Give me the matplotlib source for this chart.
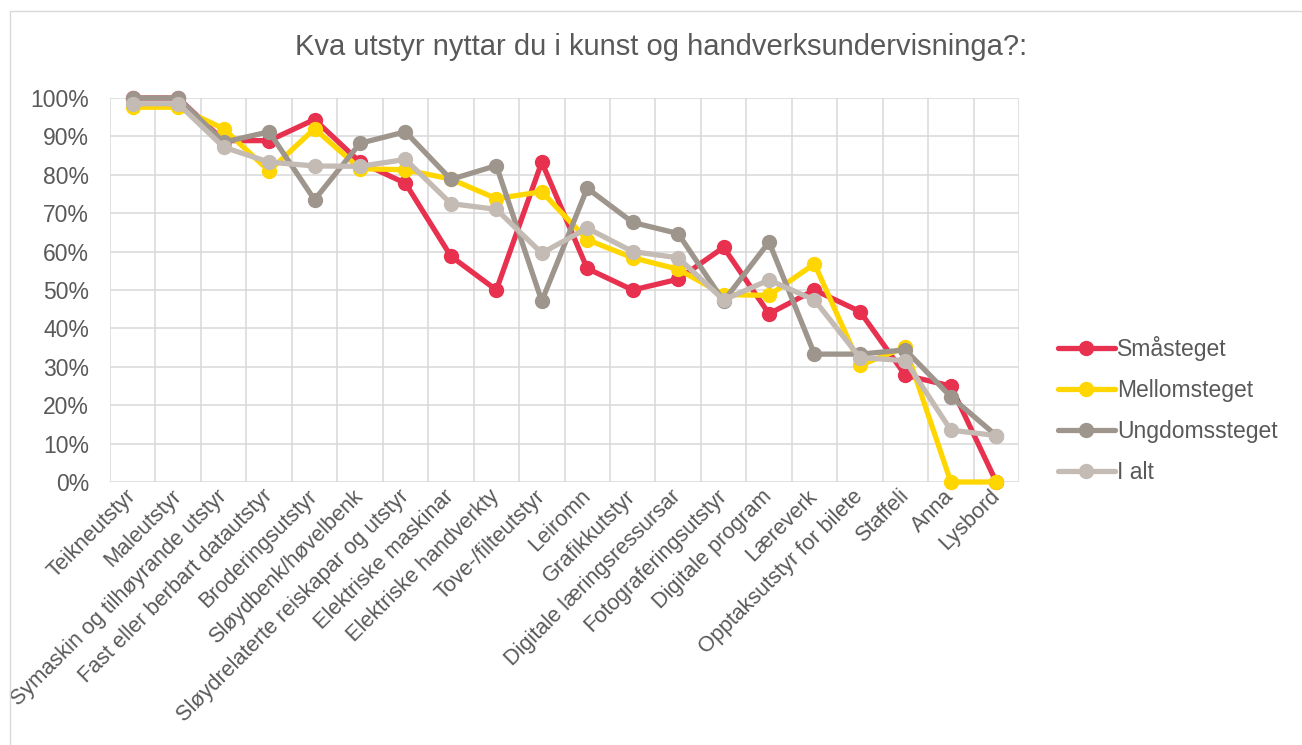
import matplotlib
matplotlib.use("Agg")
import matplotlib.pyplot as plt
import matplotlib.patches as mpatches
import numpy as np

plt.rcParams['font.family'] = ['Liberation Sans', 'DejaVu Sans']

categories = ["Teikneutstyr", "Maleutstyr", "Symaskin og tilhøyrande utstyr",
              "Fast eller berbart datautstyr", "Broderingsutstyr", "Sløydbenk/høvelbenk",
              "Sløydrelaterte reiskapar og utstyr", "Elektriske maskinar",
              "Elektriske handverkty", "Tove-/filteutstyr", "Leiromn", "Grafikkutstyr",
              "Digitale læringsressursar", "Fotograferingsutstyr", "Digitale program",
              "Læreverk", "Opptaksutstyr for bilete", "Staffeli", "Anna", "Lysbord"]

smasteget = [100, 100, 88.9, 88.9, 94.4, 83.3, 77.8, 58.8, 50.0, 83.3,
             55.6, 50.0, 52.8, 61.1, 43.8, 50.0, 44.4, 27.8, 25.0, 0.0]
mellomsteget = [97.6, 97.6, 92.0, 81.0, 92.0, 81.6, 81.3, 78.9, 73.8, 75.6,
                63.1, 58.4, 55.4, 48.8, 48.6, 56.8, 30.4, 35.1, 0.0, 0.0]
ungdomssteget = [100, 100, 88.5, 91.2, 73.5, 88.2, 91.2, 78.8, 82.4, 47.1,
                 76.5, 67.6, 64.7, 47.1, 62.5, 33.3, 33.3, 34.4, 22.2, 12.1]
i_alt = [98.5, 98.5, 87.2, 83.3, 82.3, 82.2, 84.0, 72.5, 71.0, 59.6,
         66.1, 60.0, 58.4, 47.4, 52.6, 47.4, 32.4, 31.6, 13.5, 12.1]

series_names = ["Småsteget", "Mellomsteget", "Ungdomssteget", "I alt"]
series_values = [smasteget, mellomsteget, ungdomssteget, i_alt]
colors = ["#E8304F", "#FFD600", "#9E958C", "#C4BBB4"]

W, H = 1302, 745
fig = plt.figure(figsize=(W / 100, H / 100), dpi=100)
fig.patch.set_facecolor("white")

# outer border
fig.patches.append(mpatches.Rectangle((10 / W, -0.1), 2.0, 1 - 11 / H + 0.1,
                                      transform=fig.transFigure, fill=False,
                                      edgecolor="#D9D9D9", linewidth=1.0))

ax = fig.add_axes([110 / W, 1 - 482 / H, (1019 - 110) / W, (482 - 98) / H])
x = np.arange(len(categories))
for name, vals, c in zip(series_names, series_values, colors):
    ax.plot(x, np.array(vals) / 100.0, color=c, linewidth=3.8, marker="o",
            markersize=10, label=name, clip_on=False, solid_capstyle="round")

ax.set_xlim(-0.5, len(categories) - 0.5)
ax.set_ylim(0, 1.0)
ax.set_yticks(np.arange(0, 1.01, 0.1))
ax.set_yticklabels([f"{int(round(v * 100))}%" for v in np.arange(0, 1.01, 0.1)])
ax.set_xticks(x)
ax.set_xticklabels(categories, rotation=45, ha="right", va="center",
                   rotation_mode="anchor")
ax.set_xticks(np.arange(-0.5, len(categories), 1), minor=True)
ax.grid(True, which="minor", axis="x", color="#D9D9D9", linewidth=1.1)
ax.grid(True, which="major", axis="y", color="#D9D9D9", linewidth=1.1)
ax.set_axisbelow(True)
for s in ax.spines.values():
    s.set_visible(False)
ax.tick_params(axis="both", which="both", length=0, labelsize=15.6, colors="#595959")
ax.tick_params(axis="y", labelsize=16.5, pad=15)
ax.tick_params(axis="x", pad=8)

fig.text(661 / W, 1 - 47 / H, "Kva utstyr nyttar du i kunst og handverksundervisninga?:",
         ha="center", va="center", fontsize=21, color="#595959")

leg = fig.legend(loc="center left", bbox_to_anchor=(1037 / W, 1 - 410 / H),
                 frameon=False, fontsize=16.5, handlelength=2.5, handletextpad=0.1,
                 labelspacing=0.78, labelcolor="#595959")

fig.savefig("out.png", dpi=100, facecolor="white")
